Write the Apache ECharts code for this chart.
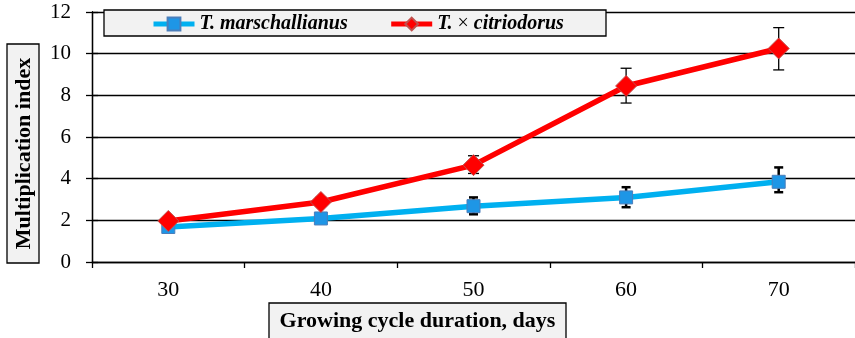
<!DOCTYPE html>
<html><head><meta charset="utf-8">
<script src="https://cdn.jsdelivr.net/npm/echarts@6/dist/echarts.min.js"></script>
<style>html,body{margin:0;padding:0;background:#fff}#c{width:855px;height:338px}</style>
</head><body><div id="c"></div>
<script>
const categories = ['30', '40', '50', '60', '70'];
const yTicks = [0, 2, 4, 6, 8, 10, 12];
const marschMean = [1.68, 2.09, 2.68, 3.10, 3.85];
const marschLow  = [1.60, 1.90, 2.29, 2.63, 3.35];
const marschHigh = [1.78, 2.30, 3.10, 3.59, 4.54];
const citrioMean = [1.97, 2.88, 4.65, 8.45, 10.25];
const citrioLow  = [1.88, 2.70, 4.25, 7.63, 9.22];
const citrioHigh = [2.08, 3.10, 5.10, 9.30, 11.25];
const seriesNames = ['T. marschallianus', 'T. × citriodorus'];
const xTitle = 'Growing cycle duration, days';
const yTitle = 'Multiplication index';

const FONT = '"Liberation Serif", "Times New Roman", serif';
const chart = echarts.init(document.getElementById('c'), null, {renderer: 'canvas'});

function errSeries(low, high, color, width, cap) {
  return {
    type: 'custom', z: 1, silent: true,
    data: low.map((l, i) => [i, l, high[i]]),
    renderItem: function (params, api) {
      const i = api.value(0);
      const p1 = api.coord([i, api.value(1)]);
      const p2 = api.coord([i, api.value(2)]);
      const st = {stroke: color, lineWidth: width};
      return {type: 'group', children: [
        {type: 'line', shape: {x1: p1[0], y1: p1[1], x2: p2[0], y2: p2[1]}, style: st},
        {type: 'line', shape: {x1: p1[0] - cap, y1: p1[1], x2: p1[0] + cap, y2: p1[1]}, style: st},
        {type: 'line', shape: {x1: p2[0] - cap, y1: p2[1], x2: p2[0] + cap, y2: p2[1]}, style: st}
      ]};
    }
  };
}

const yBase = {
  type: 'value', min: yTicks[0], max: yTicks[yTicks.length - 1], interval: 2,
  axisLine: {show: true, lineStyle: {color: '#000', width: 1.3}}
};

chart.setOption({
  animation: false,
  grid: {left: 92, right: -7, top: 12, bottom: 76, containLabel: false},
  legend: {
    z: 20, left: 146, top: 9, itemWidth: 41, itemHeight: 16, itemGap: 41,
    data: seriesNames,
    lineStyle: {width: 5},
    formatter: function (n) {
      return n === seriesNames[1] ? '{a|T.} {b|×} {a|citriodorus}' : '{a|' + n + '}';
    },
    textStyle: {
      fontFamily: FONT, fontSize: 20, color: '#000',
      rich: {
        a: {fontFamily: FONT, fontSize: 20, fontWeight: 'bold', fontStyle: 'italic', color: '#000'},
        b: {fontFamily: FONT, fontSize: 20, color: '#000'}
      }
    }
  },
  xAxis: {
    type: 'category', data: categories, boundaryGap: true,
    axisLine: {lineStyle: {color: '#000', width: 1.3}},
    axisTick: {show: true, length: 6, lineStyle: {color: '#000', width: 1.3}},
    axisLabel: {fontFamily: FONT, fontSize: 22, color: '#000', margin: 17},
    splitLine: {show: false}
  },
  yAxis: [
    Object.assign({}, yBase, {
      axisTick: {show: true, length: 6, lineStyle: {color: '#000', width: 1.3}},
      axisLabel: {fontFamily: FONT, fontSize: 21, color: '#000', margin: 21},
      splitLine: {show: true, lineStyle: {color: '#000', width: 1.3}}
    }),
    Object.assign({}, yBase, {
      position: 'left',
      axisTick: {show: true, inside: true, length: 6, lineStyle: {color: '#000', width: 1.3}},
      axisLabel: {show: false},
      splitLine: {show: false}
    })
  ],
  graphic: [
    {type: 'rect', z: 10, shape: {x: 104, y: 10, width: 502, height: 26},
     style: {fill: '#f2f2f2', stroke: '#000', lineWidth: 1.3}},
    {type: 'rect', z: 10, shape: {x: 7, y: 44, width: 32, height: 219},
     style: {fill: '#f2f2f2', stroke: '#000', lineWidth: 1.3}},
    {type: 'text', z: 11, x: 24, y: 153.5, rotation: Math.PI / 2,
     style: {text: yTitle, fontFamily: FONT, fontSize: 22, fontWeight: 'bold', fill: '#000',
             align: 'center', verticalAlign: 'middle'}},
    {type: 'rect', z: 10, shape: {x: 269, y: 303, width: 297, height: 40},
     style: {fill: '#f2f2f2', stroke: '#000', lineWidth: 1.3}},
    {type: 'text', z: 11, x: 417.5, y: 321,
     style: {text: xTitle, fontFamily: FONT, fontSize: 22, fontWeight: 'bold', fill: '#000',
             align: 'center', verticalAlign: 'middle'}}
  ],
  series: [
    {
      name: seriesNames[0], type: 'line', z: 3, data: marschMean,
      symbol: 'rect', symbolSize: 13,
      lineStyle: {color: '#00b0f0', width: 5.5},
      itemStyle: {color: '#1e96e6', borderColor: '#4a7ebb', borderWidth: 1}
    },
    {
      name: seriesNames[1], type: 'line', z: 4, data: citrioMean,
      symbol: 'diamond', symbolSize: 21,
      lineStyle: {color: '#ff0000', width: 5.5},
      itemStyle: {color: '#ff0000', borderColor: '#c0504d', borderWidth: 1}
    },
    errSeries(marschLow, marschHigh, '#000', 2.5, 4.5),
    errSeries(citrioLow, citrioHigh, '#000', 1.3, 5.5)
  ]
});
</script></body></html>
